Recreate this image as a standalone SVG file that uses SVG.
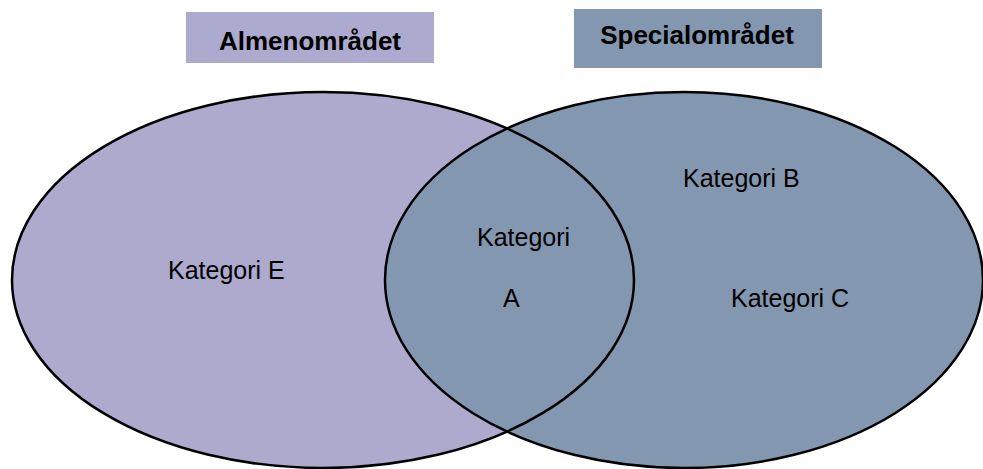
<svg xmlns="http://www.w3.org/2000/svg" width="983" height="469" viewBox="0 0 983 469">
<style>
.hdr{font-family:"Liberation Sans",Arial,sans-serif;font-weight:bold;font-size:26px;fill:#000;text-anchor:middle}
.lbl{font-family:"Liberation Sans",Arial,sans-serif;font-size:25px;fill:#000}
.outline{fill:none;stroke:#000;stroke-width:2.5}
</style>
<rect width="983" height="469" fill="#fff"/>
<g id="almen-header">
<rect x="186" y="12" width="248" height="51" fill="#ADAACF"/>
<text class="hdr" x="310" y="50">Almenområdet</text>
</g>
<g id="special-header">
<rect x="574" y="9" width="248" height="59" fill="#8497B0"/>
<text class="hdr" x="697" y="44">Specialområdet</text>
</g>
<g id="fills">
<ellipse cx="323" cy="280" rx="311" ry="188" fill="#ADAACD"/>
<ellipse cx="684" cy="280" rx="299" ry="188" fill="#8497B0"/>
</g>
<g id="almen">
<ellipse class="outline" cx="323" cy="280" rx="311" ry="188"/>
<text class="lbl" x="168" y="279">Kategori E</text>
</g>
<g id="special">
<ellipse class="outline" cx="684" cy="280" rx="299" ry="188"/>
<text class="lbl" x="683" y="187">Kategori B</text>
<text class="lbl" x="731" y="307">Kategori C</text>
</g>
<g id="overlap">
<text class="lbl" x="477" y="246">Kategori</text>
<text class="lbl" x="503" y="307">A</text>
</g>
<g id="connectors"></g>
</svg>
